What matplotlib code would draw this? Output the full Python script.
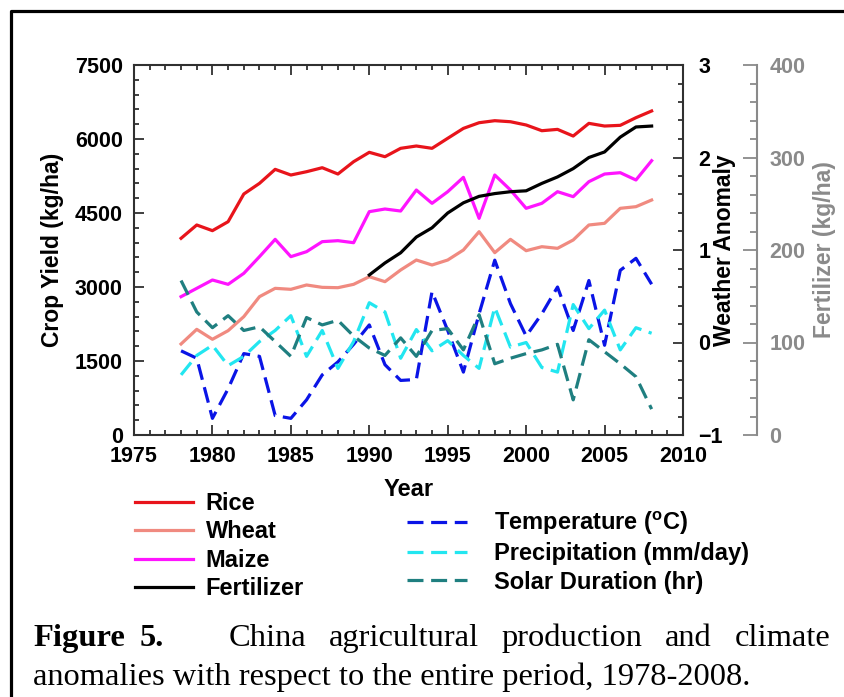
import matplotlib
matplotlib.use("Agg")
import matplotlib.pyplot as plt
from matplotlib.lines import Line2D
from matplotlib.ticker import MultipleLocator

# China crop yields (kg/ha), fertilizer use (kg/ha) and weather anomalies, 1978-2008
years = list(range(1978, 2009))
rice = [3987, 4257, 4142, 4324, 4885, 5101, 5385, 5270, 5337, 5418, 5290, 5540,
        5730, 5641, 5811, 5858, 5811, 6014, 6215, 6330, 6371, 6350, 6284, 6168,
        6195, 6060, 6317, 6263, 6277, 6432, 6568]
wheat = [1845, 2142, 1940, 2115, 2399, 2804, 2973, 2953, 3041, 2993, 2986, 3054,
         3209, 3108, 3345, 3547, 3446, 3547, 3750, 4121, 3696, 3966, 3736, 3817,
         3784, 3953, 4257, 4291, 4595, 4628, 4763]
maize = [2804, 2973, 3142, 3054, 3277, 3615, 3966, 3615, 3716, 3919, 3939, 3898,
         4527, 4581, 4540, 4966, 4696, 4932, 5223, 4392, 5270, 4966, 4595, 4696,
         4932, 4831, 5135, 5290, 5317, 5169, 5560]
fert_years = list(range(1990, 2009))
fertilizer = [173, 186, 197, 214, 224, 240, 251, 258, 261, 263, 264, 272, 279,
              288, 300, 306, 322, 333, 334]
temperature = [-0.09, -0.17, -0.82, -0.50, -0.12, -0.15, -0.79, -0.82, -0.62, -0.35,
               -0.21, -0.02, 0.19, -0.24, -0.41, -0.40, 0.55, 0.13, -0.32, 0.31,
               0.89, 0.42, 0.07, 0.31, 0.60, 0.13, 0.67, -0.03, 0.78, 0.91, 0.63]
precipitation = [-0.35, -0.14, -0.03, -0.25, -0.15, 0.01, 0.13, 0.29, -0.15, 0.13,
                 -0.28, 0.01, 0.43, 0.33, -0.17, 0.14, -0.09, 0.02, -0.14, -0.28,
                 0.38, -0.05, 0.00, -0.27, -0.32, 0.41, 0.15, 0.35, -0.08, 0.16, 0.10]
solar = [0.67, 0.33, 0.16, 0.29, 0.13, 0.17, 0.01, -0.15, 0.27, 0.19, 0.24, 0.07,
         -0.06, -0.14, 0.05, -0.15, 0.13, 0.15, -0.08, 0.30, -0.23, -0.17, -0.12,
         -0.08, -0.02, -0.62, 0.03, -0.10, -0.23, -0.37, -0.72]

caption_line1 = [("Figure", "bold"), ("5.", "bold"), ("China", "normal"),
                 ("agricultural", "normal"), ("production", "normal"),
                 ("and", "normal"), ("climate", "normal")]
caption_line2 = "anomalies with respect to the entire period, 1978-2008."

RED, SALMON, MAGENTA = "#e8141b", "#f08a80", "#ff14ff"
BLUE, CYAN, TEAL = "#0a14e6", "#22e6f0", "#1f7f80"
GREY = "#8a8a8a"
SPINE = "#303030"

plt.rcParams["font.family"] = ["Liberation Sans", "DejaVu Sans"]
plt.rcParams["font.weight"] = "bold"
plt.rcParams["axes.labelweight"] = "bold"

W, H = 844, 697
fig = plt.figure(figsize=(W / 100, H / 100), dpi=100)


def fx(px):
    return px / W


def fy(py):
    return 1 - py / H


ax = fig.add_axes([fx(134), fy(435), fx(683) - fx(134), fy(65) - fy(435)])
ax2 = ax.twinx()
ax3 = ax.twinx()

lw = 2.3
dash = (5, 2.4)
l_rice, = ax.plot(years, rice, color=RED, lw=lw, label="Rice")
l_wheat, = ax.plot(years, wheat, color=SALMON, lw=lw, label="Wheat")
l_maize, = ax.plot(years, maize, color=MAGENTA, lw=lw, label="Maize")
l_temp, = ax2.plot(years, temperature, color=BLUE, lw=lw, dashes=dash,
                   label="Temperature ($^{\\mathregular{o}}$C)")
l_prec, = ax2.plot(years, precipitation, color=CYAN, lw=lw, dashes=dash,
                   label="Precipitation (mm/day)")
l_solar, = ax2.plot(years, solar, color=TEAL, lw=lw, dashes=dash,
                    label="Solar Duration (hr)")
l_fert, = ax3.plot(fert_years, fertilizer, color="black", lw=lw, label="Fertilizer")

# main axes: year / crop yield
ax.set_xlim(1975, 2010)
ax.set_ylim(0, 7500)
ax.xaxis.set_major_locator(MultipleLocator(5))
ax.xaxis.set_minor_locator(MultipleLocator(1))
ax.yaxis.set_major_locator(MultipleLocator(1500))
ax.yaxis.set_minor_locator(MultipleLocator(300))
ax.tick_params(which="both", direction="in", top=True, right=False,
               color=SPINE, width=1.3, labelsize=15.5, pad=8)
ax.tick_params(which="major", length=7)
ax.tick_params(which="minor", length=3.5)
for s in ax.spines.values():
    s.set_color(SPINE)
    s.set_linewidth(1.5)
ax.set_xlabel("Year", fontsize=17, labelpad=8)
ax.set_ylabel("Crop Yield (kg/ha)", fontsize=16.5, labelpad=8)

# weather anomaly on the right spine
ax2.set_ylim(-1, 3)
ax2.yaxis.set_major_locator(MultipleLocator(1))
ax2.yaxis.set_minor_locator(MultipleLocator(0.2))
ax2.tick_params(which="both", direction="in", color=SPINE, width=1.3,
                labelsize=15.5, pad=11)
ax2.tick_params(which="major", length=7)
ax2.tick_params(which="minor", length=3.5)
for s in ax2.spines.values():
    s.set_visible(False)
ax2.set_ylabel("Weather Anomaly", fontsize=16.5)
ax2.yaxis.set_label_coords((713 - 134) / (683 - 134), 0.5)

# fertilizer on a detached grey spine
ax3.set_ylim(0, 400)
ax3.spines["right"].set_position(("axes", (757 - 134) / (683 - 134)))
for name, s in ax3.spines.items():
    s.set_visible(name == "right")
ax3.spines["right"].set_color(GREY)
ax3.spines["right"].set_linewidth(1.5)
ax3.yaxis.set_major_locator(MultipleLocator(100))
ax3.yaxis.set_minor_locator(MultipleLocator(20))
ax3.tick_params(which="both", direction="in", color=GREY, width=1.3,
                labelcolor=GREY, labelsize=15.5, pad=9)
ax3.tick_params(which="major", length=10)
ax3.tick_params(which="minor", length=5)
ax3.set_ylabel("Fertilizer (kg/ha)", fontsize=16.5, color=GREY)
ax3.yaxis.set_label_coords((813 - 134) / (683 - 134), 0.5)

# legends below the plot
leg_kw = dict(frameon=False, fontsize=17, borderpad=0, borderaxespad=0,
              labelspacing=0.23)
fig.legend(handles=[l_rice, l_wheat, l_maize, l_fert], loc="upper left",
           bbox_to_anchor=(fx(135), fy(492)), handlelength=2.45,
           handletextpad=0.55, **leg_kw)
fig.legend(handles=[l_temp, l_prec, l_solar], loc="upper left",
           bbox_to_anchor=(fx(407), fy(509)), handlelength=2.55,
           handletextpad=1.15, **leg_kw)

# frame lines on the left and top
fig.add_artist(Line2D([fx(11), fx(11), fx(W)], [0, fy(11), fy(11)],
                      color="black", lw=2.3, transform=fig.transFigure))

# caption, first line justified between the margins
renderer = fig.canvas.get_renderer()
cap_kw = dict(family=["Liberation Serif", "DejaVu Serif"], fontsize=23.4,
              va="baseline", ha="left")
words = [fig.text(0, fy(646), w, fontweight=wt, **cap_kw) for w, wt in caption_line1]
widths = [t.get_window_extent(renderer).width for t in words]
gaps = [0.65, 2.9, 1, 1, 1, 1]
g = (830 - 33 - sum(widths)) / sum(gaps)
x = 33
for t, w, k in zip(words, widths, gaps + [0]):
    t.set_x(fx(x))
    x += w + g * k
fig.text(fx(33), fy(685), caption_line2, fontweight="normal", **cap_kw)

fig.savefig("out.png", dpi=100)
